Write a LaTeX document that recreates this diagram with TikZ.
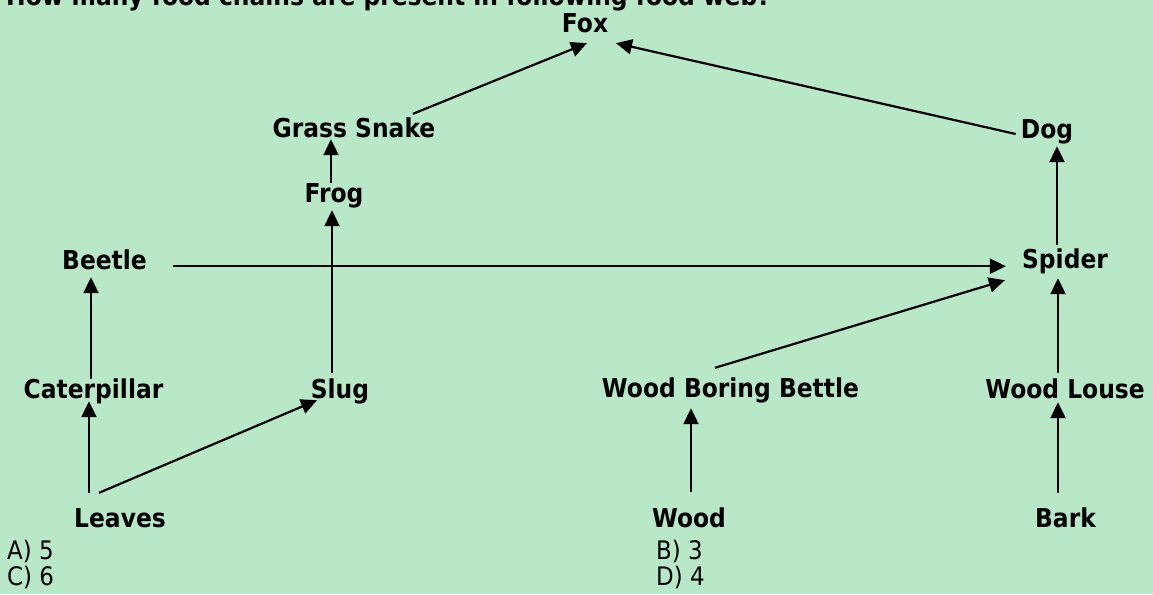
\documentclass[tikz,border=0pt]{standalone}
\usepackage{fontspec}
\setmainfont{DejaVu Sans}[FakeStretch=0.9]
\usetikzlibrary{arrows.meta}
\definecolor{bgc}{RGB}{184,232,200}
\tikzset{
  lab/.style={font=\fontsize{26}{26}\selectfont\bfseries, text height=19pt, text depth=0pt, inner sep=0pt, anchor=base},
  opt/.style={font=\fontsize{25.5}{26}\selectfont, inner sep=0pt, anchor=base west},
  arr/.style={line width=2.2pt, -{Triangle[length=16pt,width=15pt]}}
}
\begin{document}
\begin{tikzpicture}[x=1pt,y=-1pt]
\fill[bgc] (0,0) rectangle (1153,594);
\useasboundingbox (0,0) rectangle (1153,594);
\clip (0,0) rectangle (1153,594);
\node[lab, anchor=base west] (title) at (6,6) {How many food chains are present in following food web?};
\node[lab] (fox) at (585,33) {Fox};
\node[lab] (gs) at (354,137) {Grass Snake};
\node[lab] (dog) at (1047,138) {Dog};
\node[lab] (frog) at (334,202) {Frog};
\node[lab] (beetle) at (104.5,269) {Beetle};
\node[lab] (spider) at (1065,268) {Spider};
\node[lab] (cat) at (93.5,398) {Caterpillar};
\node[lab] (slug) at (340,398) {Slug};
\node[lab] (wbb) at (730.5,397) {Wood Boring Bettle};
\node[lab] (wl) at (1065,398) {Wood Louse};
\node[lab] (leaves) at (120,527) {Leaves};
\node[lab] (wood) at (689,527) {Wood};
\node[lab] (bark) at (1065.5,527) {Bark};
\node[opt] (oa) at (7,559) {A) 5};
\node[opt] (ob) at (656,559) {B) 3};
\node[opt] (oc) at (7,585) {C) 6};
\node[opt] (od) at (656,585) {D) 4};
% connectors
\draw[arr] ([xshift=59pt,yshift=4pt]gs.north) -- ([xshift=2pt,yshift=-10pt]fox.south);
\draw[arr] ([xshift=-5pt,yshift=-5.5pt]dog.west) -- ([xshift=31pt,yshift=-10pt]fox.south);
\draw[arr] ([xshift=-3pt]frog.north) -- ([xshift=-23pt,yshift=-2pt]gs.south);
\draw[arr] ([xshift=-8pt,yshift=6pt]slug.north) -- ([xshift=-2pt,yshift=-8pt]frog.south);
\draw[arr] ([xshift=-2.5pt]cat.north) -- ([xshift=-13.5pt,yshift=-8pt]beetle.south);
\draw[arr] ([xshift=-31pt,yshift=15pt]leaves.north) -- ([xshift=-4.5pt,yshift=-3pt]cat.south);
\draw[arr] ([xshift=-21pt,yshift=15pt]leaves.north) -- ([xshift=-23pt,yshift=-2pt]slug.south);
\draw[arr] ([xshift=26pt,yshift=3pt]beetle.south east) -- ([xshift=-16pt,yshift=2pt]spider.south west);
\draw[arr] ([xshift=-15.5pt,yshift=10pt]wbb.north) -- ([xshift=-17pt,yshift=-12pt]spider.south west);
\draw[arr] ([xshift=2pt,yshift=16pt]wood.north) -- ([xshift=-39.5pt,yshift=-11pt]wbb.south);
\draw[arr] ([xshift=-7.5pt,yshift=15pt]bark.north) -- ([xshift=-7pt,yshift=-4pt]wl.south);
\draw[arr] ([xshift=-7pt,yshift=6pt]wl.north) -- ([xshift=-7pt,yshift=-10pt]spider.south);
\draw[arr] ([xshift=-8pt,yshift=4pt]spider.north) -- ([xshift=10pt,yshift=-8pt]dog.south);
\end{tikzpicture}
\end{document}
